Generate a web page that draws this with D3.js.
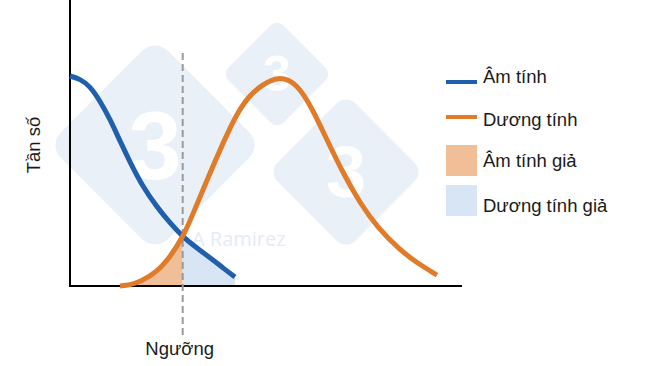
<!DOCTYPE html>
<html>
<head>
<meta charset="utf-8">
<script src="https://cdn.jsdelivr.net/npm/d3@7/dist/d3.min.js"></script>
<style>
  html, body { margin: 0; padding: 0; background: #ffffff; }
  svg { display: block; }
  text { font-family: "Liberation Sans", Arial, sans-serif; fill: #1a1a1a; }
</style>
</head>
<body>
<svg id="chart" width="650" height="366"></svg>
<script>
// ---- Data (x in arbitrary units 0..100, y as relative frequency 0..1) ----
const negativeX = [0, 2.55, 5.10, 7.65, 10.20, 12.76, 15.31, 18.62, 22.19, 25.51, 28.83, 32.40, 36.48, 39.03, 42.09];
const negativeY = [1.0, 0.986, 0.952, 0.881, 0.795, 0.690, 0.590, 0.471, 0.376, 0.300, 0.233, 0.181, 0.124, 0.086, 0.043];

const positiveX = [12.76, 15.31, 17.86, 22.19, 25.51, 28.83, 31.38, 34.95, 39.03, 42.60, 45.92, 48.98, 53.06, 57.91, 61.99, 65.56, 69.64, 73.98, 78.32, 84.18, 88.52, 93.62];
const positiveY = [0.0, 0.005, 0.019, 0.067, 0.138, 0.233, 0.343, 0.505, 0.681, 0.824, 0.910, 0.957, 1.0, 0.967, 0.838, 0.695, 0.538, 0.395, 0.281, 0.171, 0.110, 0.052];

const threshold = 28.75;

const seriesNames = ["Âm tính", "Dương tính"];
const areaNames = ["Âm tính giả", "Dương tính giả"];
const yAxisLabel = "Tần số";
const thresholdLabel = "Ngưỡng";
const watermarkText = "A Ramirez";

// ---- Layout ----
const svg = d3.select("#chart");
const x = d3.scaleLinear().domain([0, 100]).range([70, 462]);
const y = d3.scaleLinear().domain([0, 1]).range([286, 76]);
const FS = "18.5px";

const COLORS = {
  neg: "#1f5fae",
  pos: "#e07b29",
  negFill: "#f0be97",
  posFill: "#d7e5f4",
  wm: "#eaf0f7"
};

// ---- Watermark (decorative) ----
const wm = svg.append("g").attr("class", "watermark");
const diamonds = [
  {cx: 155, cy: 145, r: 107, fs: 96},
  {cx: 277, cy: 74, r: 55, fs: 50},
  {cx: 346, cy: 172, r: 78, fs: 72}
];
diamonds.forEach(d => {
  const s = d.r * Math.SQRT2;
  wm.append("rect")
    .attr("x", d.cx - s / 2).attr("y", d.cy - s / 2)
    .attr("width", s).attr("height", s)
    .attr("rx", s * 0.12)
    .attr("transform", `rotate(45 ${d.cx} ${d.cy})`)
    .attr("fill", COLORS.wm);
  wm.append("text")
    .attr("x", d.cx).attr("y", d.cy)
    .attr("text-anchor", "middle").attr("dominant-baseline", "central")
    .style("font-size", d.fs + "px").style("font-weight", "bold")
    .style("fill", "#ffffff")
    .text("3");
});
wm.append("text")
  .attr("x", 192).attr("y", 246)
  .style("font-size", "20px")
  .style("font-family", "'Open Sans', sans-serif")
  .style("fill", "#e4ebf4")
  .text(watermarkText);

// ---- Data structures ----
const negData = negativeX.map((v, i) => ({x: v, y: negativeY[i]}));
const posData = positiveX.map((v, i) => ({x: v, y: positiveY[i]}));

const curve = d3.curveBasis;
const line = d3.line().x(d => x(d.x)).y(d => y(d.y)).curve(curve);
const area = d3.area().x(d => x(d.x)).y0(y(0)).y1(d => y(d.y)).curve(curve);

const defs = svg.append("defs");
defs.append("clipPath").attr("id", "clipLeft")
  .append("rect").attr("x", 0).attr("y", 0)
  .attr("width", x(threshold)).attr("height", 366);
defs.append("clipPath").attr("id", "clipRight")
  .append("rect").attr("x", x(threshold)).attr("y", 0)
  .attr("width", 650 - x(threshold)).attr("height", 366);

// False negative area: positive curve left of threshold
svg.append("path").datum(posData)
  .attr("d", area).attr("fill", COLORS.negFill)
  .attr("clip-path", "url(#clipLeft)");
// False positive area: negative curve right of threshold
svg.append("path").datum(negData)
  .attr("d", area).attr("fill", COLORS.posFill)
  .attr("clip-path", "url(#clipRight)");

// ---- Axes ----
svg.append("line")
  .attr("x1", x(0)).attr("x2", x(0))
  .attr("y1", 0).attr("y2", y(0) + 1)
  .attr("stroke", "#000").attr("stroke-width", 2);
svg.append("line")
  .attr("x1", x(0) - 1).attr("x2", x(100))
  .attr("y1", y(0)).attr("y2", y(0))
  .attr("stroke", "#000").attr("stroke-width", 2);

// ---- Threshold ----
svg.append("line")
  .attr("x1", x(threshold)).attr("x2", x(threshold))
  .attr("y1", 53).attr("y2", 337)
  .attr("stroke", "#9a9a9a").attr("stroke-width", 2)
  .attr("stroke-dasharray", "7,4");

// ---- Curves ----
svg.append("path").datum(negData)
  .attr("d", line).attr("fill", "none")
  .attr("stroke", COLORS.neg).attr("stroke-width", 5);
svg.append("path").datum(posData)
  .attr("d", line).attr("fill", "none")
  .attr("stroke", COLORS.pos).attr("stroke-width", 5);

// ---- Labels ----
svg.append("text")
  .attr("x", x(threshold) - 3).attr("y", 355)
  .attr("text-anchor", "middle")
  .style("font-size", FS)
  .text(thresholdLabel);

svg.append("text")
  .attr("transform", "translate(40,145) rotate(-90)")
  .attr("text-anchor", "middle")
  .style("font-size", FS)
  .text(yAxisLabel);

// ---- Legend ----
const lg = svg.append("g");
const legendItems = [
  {name: seriesNames[0], type: "line", color: COLORS.neg, cy: 82, base: 83},
  {name: seriesNames[1], type: "line", color: COLORS.pos, cy: 117, base: 126},
  {name: areaNames[0], type: "rect", color: COLORS.negFill, cy: 160, base: 167},
  {name: areaNames[1], type: "rect", color: COLORS.posFill, cy: 200, base: 212}
];
legendItems.forEach(it => {
  if (it.type === "line") {
    lg.append("line")
      .attr("x1", 446).attr("x2", 477)
      .attr("y1", it.cy).attr("y2", it.cy)
      .attr("stroke", it.color).attr("stroke-width", 4);
  } else {
    lg.append("rect")
      .attr("x", 446).attr("y", it.cy - 15)
      .attr("width", 31).attr("height", 31)
      .attr("fill", it.color);
  }
  lg.append("text")
    .attr("x", 483).attr("y", it.base)
    .style("font-size", FS)
    .text(it.name);
});
</script>
</body>
</html>
